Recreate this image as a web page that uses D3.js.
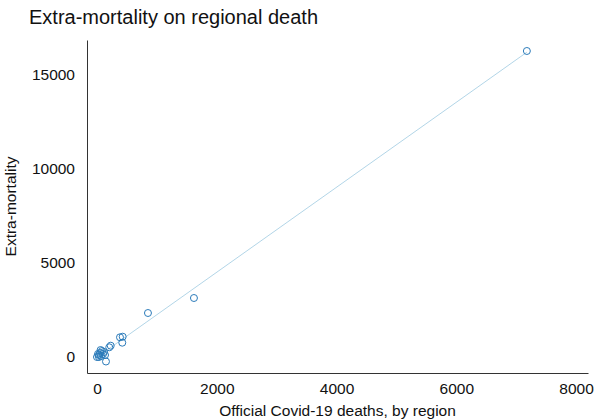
<!DOCTYPE html>
<html>
<head>
<meta charset="utf-8">
<script src="https://cdn.jsdelivr.net/npm/d3@7"></script>
<style>
  body { margin: 0; background: #fff; }
  text { font-family: "Liberation Sans", Arial, sans-serif; }
</style>
</head>
<body>
<svg id="chart"></svg>
<script>
// Data
const officialDeaths = [7179, 1619, 851, 429, 384, 422, 229, 205, 150, 0, 33, 50, 83, 117, 67, 17, 100, 33, 134, 60];
const extraMortality = [16277, 3138, 2340, 1080, 1048, 761, 601, 516, -240, 0, 106, 213, 319, 266, 53, 160, 160, 0, 106, 370];
const xTicks = [0, 2000, 4000, 6000, 8000];
const yTicks = [0, 5000, 10000, 15000];

const W = 595, H = 419;
const margin = { top: 40, right: 7, bottom: 46, left: 87 };
const width = W - margin.left - margin.right;
const height = H - margin.top - margin.bottom;

const data = officialDeaths.map((x, i) => ({ x: x, y: extraMortality[i] }));

const root = d3.select("#chart").attr("width", W).attr("height", H);
const svg = root.append("g").attr("transform", `translate(${margin.left},${margin.top})`);

// Scales
const xScale = d3.scaleLinear().domain([-167, 8200]).range([0, width]);
const yScale = d3.scaleLinear().domain([-851, 16862]).range([height, 0]);

// Linear fit
const mx = d3.mean(data, d => d.x), my = d3.mean(data, d => d.y);
const slope = d3.sum(data, d => (d.x - mx) * (d.y - my)) / d3.sum(data, d => (d.x - mx) ** 2);
const intercept = my - slope * mx;
const [x0, x1] = d3.extent(data, d => d.x);

svg.append("line")
    .attr("x1", xScale(x0)).attr("y1", yScale(intercept + slope * x0))
    .attr("x2", xScale(x1)).attr("y2", yScale(intercept + slope * x1))
    .attr("stroke", "#9ecae1")
    .attr("stroke-width", 0.8);

// Points
svg.selectAll(".dot")
    .data(data)
    .enter()
    .append("circle")
    .attr("class", "dot")
    .attr("cx", d => xScale(d.x))
    .attr("cy", d => yScale(d.y))
    .attr("r", 3.5)
    .attr("fill", "none")
    .attr("stroke", "#2b7bba")
    .attr("stroke-width", 1);

// Axes
const xAxis = svg.append("g")
    .attr("transform", `translate(0,${height})`)
    .call(d3.axisBottom(xScale).tickValues(xTicks).tickSize(0).tickPadding(10).tickFormat(d3.format("d")));
const yAxis = svg.append("g")
    .call(d3.axisLeft(yScale).tickValues(yTicks).tickSize(0).tickPadding(12).tickFormat(d3.format("d")));

[xAxis, yAxis].forEach(g => {
    g.select(".domain").attr("stroke", "#333").attr("stroke-width", 1);
    g.selectAll("text").attr("font-size", 15.5).attr("fill", "#111")
        .style("font-family", "'Liberation Sans', Arial, sans-serif");
});

// Axis labels
svg.append("text")
    .attr("x", width / 2)
    .attr("y", height + 43)
    .attr("text-anchor", "middle")
    .attr("font-size", 15.5)
    .attr("fill", "#111")
    .text("Official Covid-19 deaths, by region");

svg.append("text")
    .attr("transform", "rotate(-90)")
    .attr("x", -height / 2)
    .attr("y", -71)
    .attr("text-anchor", "middle")
    .attr("font-size", 15.5)
    .attr("fill", "#111")
    .text("Extra-mortality");

// Title
root.append("text")
    .attr("x", 29)
    .attr("y", 24)
    .attr("font-size", 20)
    .attr("fill", "#111")
    .text("Extra-mortality on regional death");
</script>
</body>
</html>
